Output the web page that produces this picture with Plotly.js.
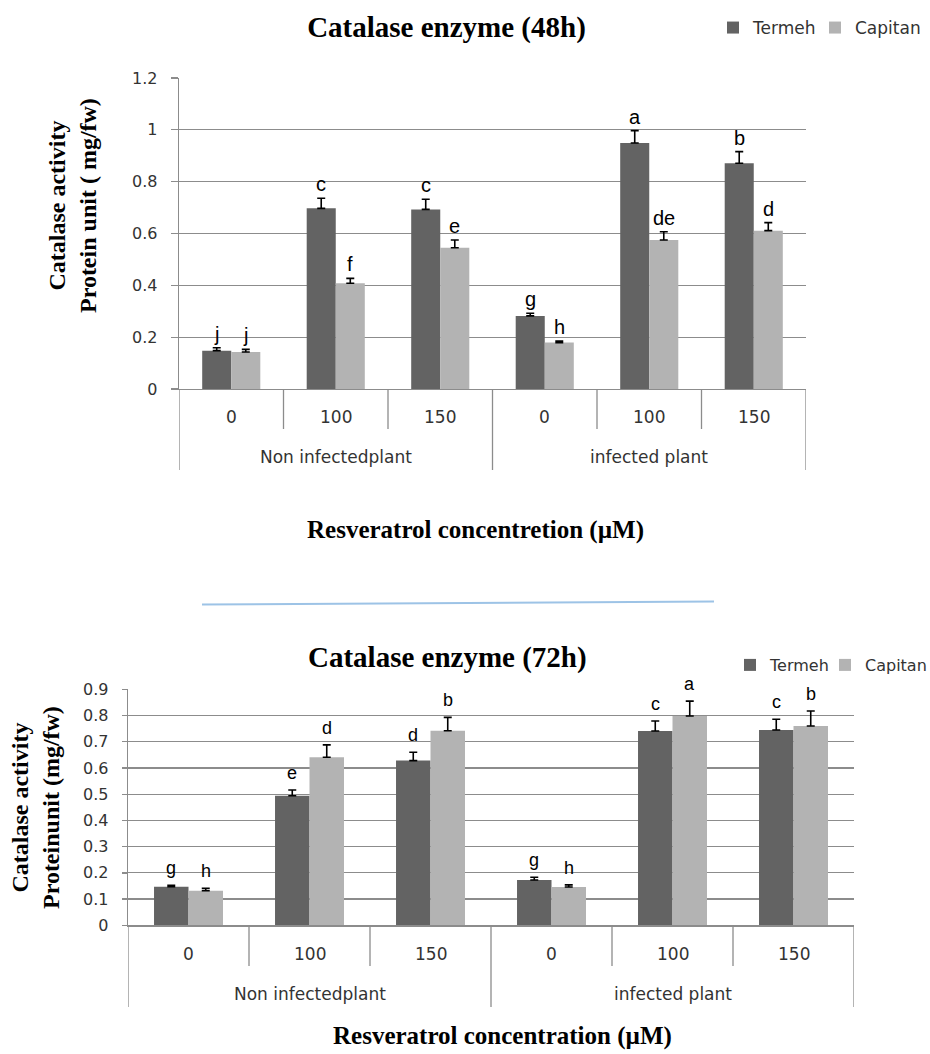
<!DOCTYPE html>
<html><head><meta charset="utf-8">
<script src="https://cdn.plot.ly/plotly-3.0.1.min.js"></script>
<style>html,body{margin:0;padding:0;background:#fff;overflow:hidden}#chart{width:930px;height:1054px}</style>
</head><body><div id="chart"></div>
<script>
// ---- data ----
const groupLabels = ['Non infectedplant', 'infected plant'];
const concentrations = ['0', '100', '150', '0', '100', '150'];
const seriesNames = ['Termeh', 'Capitan'];

const termeh48 = [0.148, 0.697, 0.693, 0.282, 0.949, 0.871];
const termeh48Err = [0.011, 0.039, 0.039, 0.010, 0.048, 0.045];
const capitan48 = [0.143, 0.408, 0.545, 0.179, 0.575, 0.611];
const capitan48Err = [0.010, 0.019, 0.030, 0.006, 0.032, 0.031];
const termeh48Letters = ['j', 'c', 'c', 'g', 'a', 'b'];
const capitan48Letters = ['j', 'f', 'e', 'h', 'de', 'd'];

const termeh72 = [0.147, 0.494, 0.628, 0.173, 0.741, 0.745];
const termeh72Err = [0.006, 0.022, 0.032, 0.010, 0.038, 0.041];
const capitan72 = [0.132, 0.641, 0.742, 0.146, 0.798, 0.760];
const capitan72Err = [0.009, 0.047, 0.051, 0.008, 0.057, 0.057];
const termeh72Letters = ['g', 'e', 'd', 'g', 'c', 'c'];
const capitan72Letters = ['h', 'd', 'b', 'h', 'a', 'b'];

const titles = ['Catalase enzyme (48h)', 'Catalase enzyme (72h)'];
const yTitles = ['Catalase activity<br>Protein unit ( mg/fw)', 'Catalase activity<br>Proteinunit (mg/fw)'];
const xTitles = ['Resveratrol concentretion (µM)', 'Resveratrol concentration (µM)'];

// ---- helpers ----
const W = 930, H = 1054;
const px = x => x / W;
const py = y => 1 - y / H;
const DARK = '#636363', LIGHT = '#b3b3b3', GRID = '#8c8c8c';
const SANS = 'DejaVu Sans', SERIF = 'Liberation Serif', ARIAL = 'Liberation Sans';
const xi = concentrations.map((_, i) => i);

const panels = [
  {xa: 'x', ya: 'y', legends: ['legend', 'legend2'], legendX: [713, 815], legendY: 28, legendSize: 17,
   bw: 0.278, values: [termeh48, capitan48], errs: [termeh48Err, capitan48Err],
   letters: [termeh48Letters, capitan48Letters], letterSize: 20, letterShift: 2,
   base: 389, catBottom: 429, grpBottom: 470, catY: 417, grpY: 457},
  {xa: 'x2', ya: 'y2', legends: ['legend3', 'legend4'], legendX: [730, 825], legendY: 665, legendSize: 16,
   bw: 0.285, values: [termeh72, capitan72], errs: [termeh72Err, capitan72Err],
   letters: [termeh72Letters, capitan72Letters], letterSize: 18, letterShift: 6,
   base: 925, catBottom: 966, grpBottom: 1007, catY: 954, grpY: 994}
];

const traces = [];
const annotations = [];
const shapes = [];
const legendCommon = {orientation: 'h', xanchor: 'left', yanchor: 'middle', bgcolor: 'rgba(0,0,0,0)',
  itemclick: false, itemdoubleclick: false};
const legends = {};

panels.forEach((p, pi) => {
  [0, 1].forEach(s => {
    traces.push({
      type: 'bar', name: seriesNames[s], x: xi, y: p.values[s],
      xaxis: p.xa, yaxis: p.ya, legend: p.legends[s], showlegend: true,
      width: p.bw, offset: s === 0 ? -p.bw : 0,
      marker: {color: s === 0 ? DARK : LIGHT, line: {width: 0}},
      error_y: {type: 'data', symmetric: false, array: p.errs[s], arrayminus: p.errs[s].map(() => 0),
                color: '#000', thickness: 1.6, width: 4},
      hoverinfo: 'skip'
    });
    legends[p.legends[s]] = Object.assign({}, legendCommon, {x: px(p.legendX[s]), y: py(p.legendY),
      font: {family: SANS, size: p.legendSize, color: '#333'}});
    p.letters[s].forEach((t, i) => {
      annotations.push({
        xref: p.xa, yref: p.ya, x: i + (s === 0 ? -p.bw / 2 : p.bw / 2), y: p.values[s][i] + p.errs[s][i],
        text: t, showarrow: false, xanchor: 'center', yanchor: 'bottom', yshift: p.letterShift, borderpad: 0,
        font: {family: ARIAL, size: p.letterSize, color: '#000'}
      });
    });
  });
  // category labels
  concentrations.forEach((c, i) => {
    annotations.push({xref: p.xa, yref: 'paper', x: i, y: py(p.catY), text: c, showarrow: false,
      xanchor: 'center', yanchor: 'middle', font: {family: SANS, size: 17, color: '#333'}});
  });
  groupLabels.forEach((g, gi) => {
    annotations.push({xref: p.xa, yref: 'paper', x: gi * 3 + 1, y: py(p.grpY), text: g, showarrow: false,
      xanchor: 'center', yanchor: 'middle', font: {family: SANS, size: 17, color: '#333'}});
  });
  // boundaries
  [0.5, 1.5, 3.5, 4.5].forEach(b => shapes.push({type: 'line', xref: p.xa, yref: 'paper', x0: b, x1: b,
    y0: py(p.base), y1: py(p.catBottom), line: {color: GRID, width: 1.3}}));
  [-0.5, 2.5, 5.5].forEach(b => shapes.push({type: 'line', xref: p.xa, yref: 'paper', x0: b, x1: b,
    y0: py(p.base), y1: py(p.grpBottom), line: {color: GRID, width: 1.3}}));
});

// titles
annotations.push({xref: 'paper', yref: 'paper', x: px(447), y: py(657), text: titles[1], showarrow: false,
  xanchor: 'center', yanchor: 'middle', font: {family: SERIF, size: 29, weight: 'bold', color: '#000'}});
annotations.push({xref: 'paper', yref: 'paper', x: px(72), y: py(206), text: yTitles[0], showarrow: false, textangle: -90,
  xanchor: 'center', yanchor: 'middle', font: {family: SERIF, size: 24, weight: 'bold', color: '#000'}});
annotations.push({xref: 'paper', yref: 'paper', x: px(35), y: py(808), text: yTitles[1], showarrow: false, textangle: -90,
  xanchor: 'center', yanchor: 'middle', font: {family: SERIF, size: 24, weight: 'bold', color: '#000'}});
annotations.push({xref: 'paper', yref: 'paper', x: px(475), y: py(530), text: xTitles[0], showarrow: false,
  xanchor: 'center', yanchor: 'middle', font: {family: SERIF, size: 25, weight: 'bold', color: '#000'}});
annotations.push({xref: 'paper', yref: 'paper', x: px(502), y: py(1036), text: xTitles[1], showarrow: false,
  xanchor: 'center', yanchor: 'middle', font: {family: SERIF, size: 25, weight: 'bold', color: '#000'}});

// separator line
shapes.push({type: 'line', xref: 'paper', yref: 'paper', x0: px(202), x1: px(714), y0: py(604.5), y1: py(601.5),
  line: {color: '#9dc3e6', width: 2}});

const xaxisCommon = {range: [-0.5, 5.5], showticklabels: false, showgrid: false, zeroline: false,
  showline: true, linecolor: GRID, linewidth: 1.3, ticks: '', fixedrange: true};
const yaxisCommon = {showline: true, linecolor: GRID, linewidth: 1.3, ticks: 'outside', tickcolor: GRID,
  tickwidth: 1.3, showgrid: true, gridcolor: GRID, gridwidth: 1.2, zeroline: false, fixedrange: true,
  tickfont: {family: SANS, size: 16, color: '#333'}, ticklabelstandoff: 10};

const layout = Object.assign({
  width: W, height: H, margin: {l: 0, r: 0, t: 0, b: 0, autoexpand: false},
  paper_bgcolor: '#fff', plot_bgcolor: 'rgba(0,0,0,0)',
  barmode: 'group', bargap: 0.44, bargroupgap: 0,
  title: {text: titles[0], x: px(446.5), y: py(27), xanchor: 'center', yanchor: 'middle', xref: 'paper', yref: 'paper',
    font: {family: SERIF, size: 29, weight: 'bold', color: '#000'}},
  xaxis: Object.assign({}, xaxisCommon, {domain: [px(179), px(806)], anchor: 'y'}),
  yaxis: Object.assign({}, yaxisCommon, {domain: [py(389), py(78)], range: [0, 1.2], dtick: 0.2, tick0: 0, ticklen: 7, anchor: 'x'}),
  xaxis2: Object.assign({}, xaxisCommon, {domain: [px(128), px(854)], anchor: 'y2'}),
  yaxis2: Object.assign({}, yaxisCommon, {domain: [py(925.3), py(689.3)], range: [0, 0.9], dtick: 0.1, tick0: 0, ticklen: 5, anchor: 'x2'}),
  annotations: annotations,
  shapes: shapes,
  showlegend: true
}, legends);

Plotly.newPlot('chart', traces, layout, {staticPlot: true, displayModeBar: false});
</script>
</body></html>
